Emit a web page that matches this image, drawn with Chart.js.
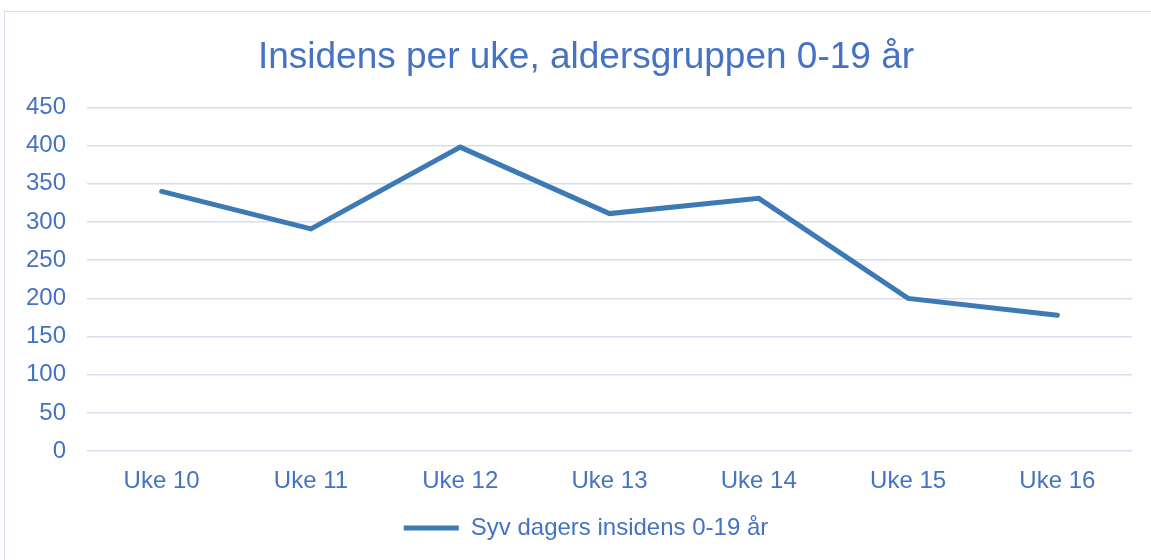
<!DOCTYPE html>
<html>
<head>
<meta charset="utf-8">
<script src="https://cdn.jsdelivr.net/npm/chart.js@4"></script>
<style>
  html, body { margin: 0; padding: 0; background: #fff; overflow: hidden; }
  #wrap { position: relative; width: 1151px; height: 560px; }
  #ramme { position: absolute; left: 4px; top: 11px; width: 1300px; height: 700px; border: 1px solid #D9DEEE; }
  canvas { position: absolute; left: 0; top: 0; }
</style>
</head>
<body>
<div id="wrap">
  <div id="ramme"></div>
  <canvas id="myChart" width="1151" height="560"></canvas>
</div>
<script>
// Data lest av fra figuren
const uker = ['Uke 10', 'Uke 11', 'Uke 12', 'Uke 13', 'Uke 14', 'Uke 15', 'Uke 16'];
const insidens = [340, 291, 398, 311, 331, 200, 178];
const serieNavn = 'Syv dagers insidens 0-19 år';
const tittel = 'Insidens per uke, aldersgruppen 0-19 år';
const yMin = 0, yMax = 450, ySteg = 50;

const tekstFarge = '#4472C4';
const linjeFarge = '#3D79B5';
const gridFarge = '#D7DDEF';
const fontNavn = '"Liberation Sans", Arial, sans-serif';

const ctx = document.getElementById('myChart').getContext('2d');

const myChart = new Chart(ctx, {
    type: 'line',
    data: {
        labels: uker,
        datasets: [{
            label: serieNavn,
            data: insidens,
            yAxisID: 'y',
            borderColor: linjeFarge,
            backgroundColor: linjeFarge,
            borderWidth: 5,
            borderCapStyle: 'round',
            borderJoinStyle: 'miter',
            pointRadius: 0,
            tension: 0
        }]
    },
    options: {
        responsive: false,
        animation: false,
        layout: {
            padding: { top: 11, left: 24, right: 3, bottom: 10 }
        },
        scales: {
            x: {
                offset: true,
                grid: { display: false },
                border: { display: false },
                ticks: {
                    color: tekstFarge,
                    padding: 8,
                    maxRotation: 0,
                    font: { family: fontNavn, size: 24 }
                }
            },
            y: {
                min: yMin,
                max: yMax,
                border: { display: false },
                grid: {
                    color: gridFarge,
                    lineWidth: 1.5,
                    drawTicks: false
                },
                ticks: {
                    stepSize: ySteg,
                    color: tekstFarge,
                    padding: 21,
                    font: { family: fontNavn, size: 24 }
                },
                // fast bredde slik at plottet starter på samme sted som i originalen
                afterFit: function (scale) {
                    scale.width = 63;
                }
            },
            // tom akse til høyre, bare for å gi samme luft som originalen
            y2: {
                position: 'right',
                grid: { display: false },
                border: { display: false },
                ticks: { display: false },
                afterFit: function (scale) {
                    scale.width = 16;
                }
            }
        },
        plugins: {
            title: {
                display: true,
                text: tittel,
                color: tekstFarge,
                font: { family: fontNavn, size: 37, weight: 'normal' },
                padding: { top: 25, bottom: 27 }
            },
            legend: {
                position: 'bottom',
                labels: {
                    color: tekstFarge,
                    font: { family: fontNavn, size: 24 },
                    usePointStyle: true,
                    pointStyle: 'line',
                    pointStyleWidth: 55,
                    padding: 12
                }
            },
            tooltip: { enabled: false }
        }
    }
});
</script>
</body>
</html>
